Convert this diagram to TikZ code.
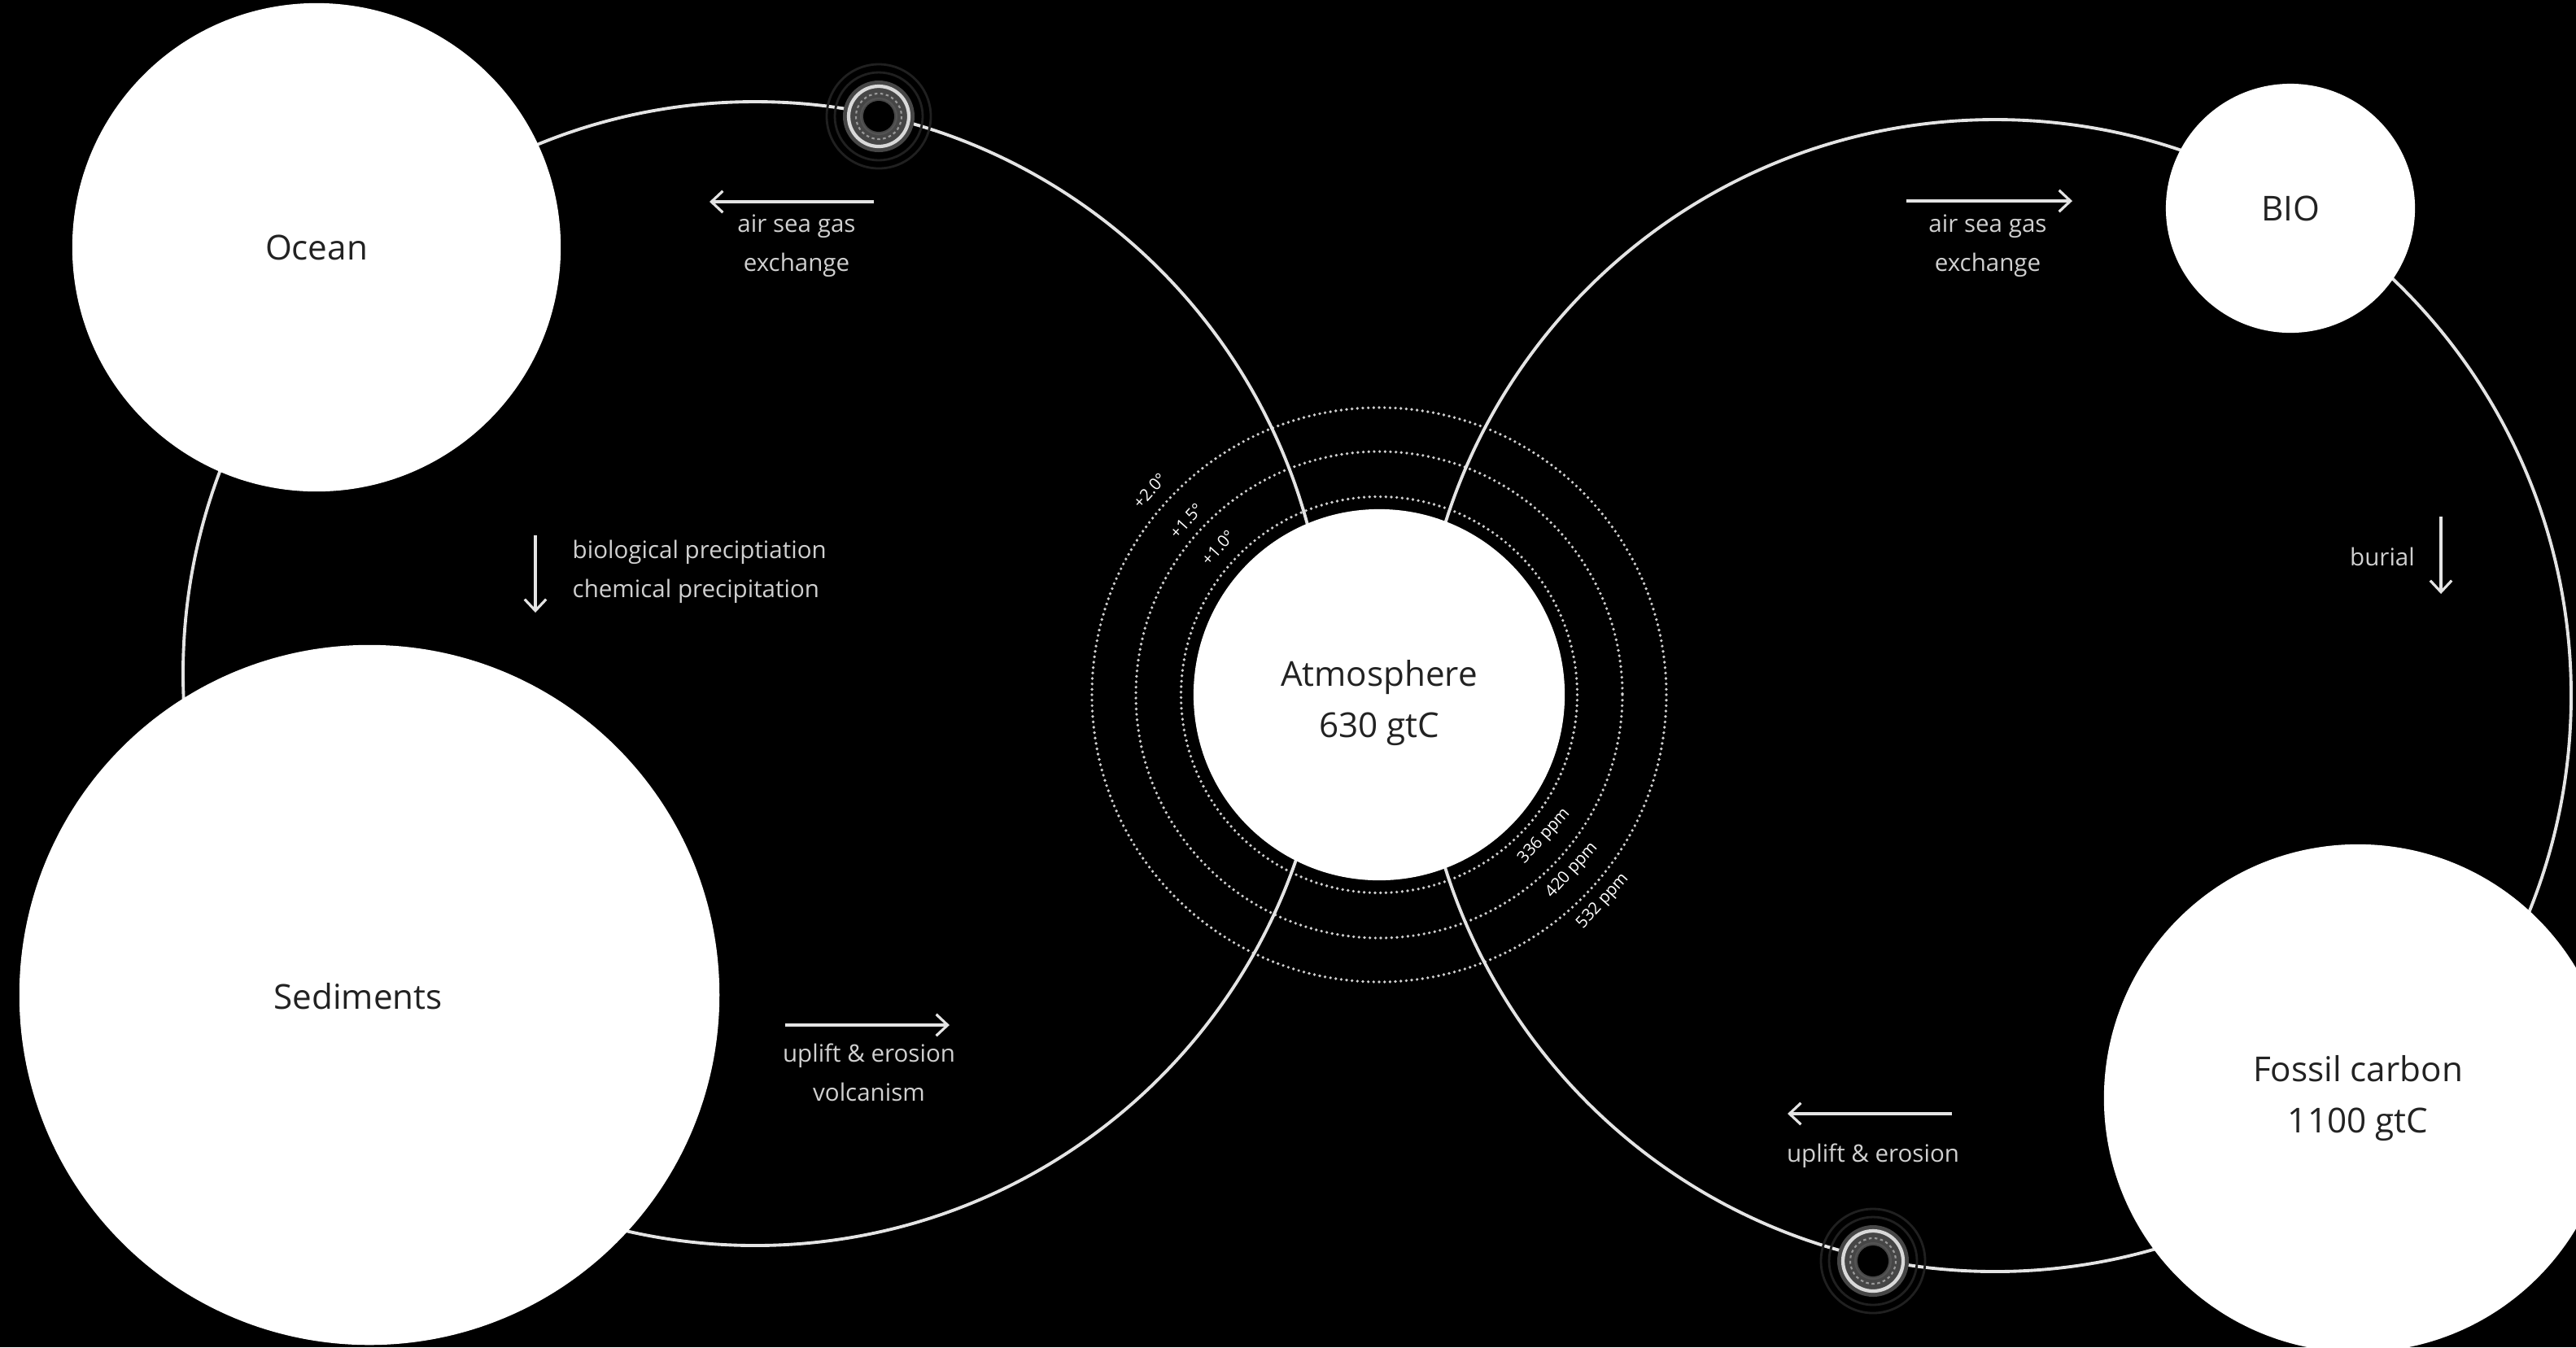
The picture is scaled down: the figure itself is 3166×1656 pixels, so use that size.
\documentclass[tikz,border=0pt]{standalone}
\usepackage{fontspec}
\setmainfont{Open Sans}
\usetikzlibrary{arrows.meta}
\definecolor{ink}{HTML}{222222}
\definecolor{wire}{HTML}{E4E4E4}
\definecolor{notegray}{HTML}{D0D0D0}
\begin{document}
\begin{tikzpicture}[x=0.01cm, y=-0.01cm,
  reservoir/.style={circle, fill=white, inner sep=0pt, text=ink, align=center,
    font=\fontsize{12}{18}\selectfont},
  restext/.style={text=ink, align=center, inner sep=0pt,
    font=\fontsize{12}{18}\selectfont},
  orbit/.style={draw=wire, line width=1.1pt},
  tempring/.style={draw=notegray, line width=1.05pt, line cap=round,
    dash pattern=on 0pt off 1.9pt},
  flow/.style={draw=wire, line width=0.9pt,
    -{Straight Barb[length=4pt,width=7.5pt]}},
  fluxnote/.style={text=notegray, align=center, inner sep=0pt,
    font=\fontsize{8.4}{13.7}\selectfont},
  ringlabel/.style={text=white, inner sep=0pt, rotate=48,
    font=\fontsize{5.8}{7}\selectfont},
  ringmark/.pic={
    \draw[gray!25!black, line width=0.8pt] (0,0) circle[radius=64] (0,0) circle[radius=54];
    \fill[gray!55!black] (0,0) circle[radius=44];
    \draw[white!85!black, line width=1.2pt] (0,0) circle[radius=37];
    \draw[gray!80, line width=0.6pt, dash pattern=on 1pt off 1pt] (0,0) circle[radius=28];
    \fill[black] (0,0) circle[radius=19];
    \draw[gray!65!black, line width=0.6pt] (0,0) circle[radius=22];
  }
]
% canvas
\fill[black] (0,0) rectangle (3166,1656);
\useasboundingbox (0,0) rectangle (3166,1656);

% centres of the two exchange loops and of the atmosphere
\coordinate (lo) at (928,828);
\coordinate (ro) at (2452,855);
\coordinate (ac) at (1695,854);

% warming rings around the atmosphere
\draw[tempring] (ac) circle[radius=243.5];
\draw[tempring] (ac) circle[radius=299];
\draw[tempring] (ac) circle[radius=353];

% the two exchange loops
\draw[orbit] (lo) circle[radius=703];
\draw[orbit] (ro) circle[radius=708];

% markers on the loops
\pic at (1080,143) {ringmark};
\pic at (2302,1550) {ringmark};

% carbon reservoirs
\node[reservoir, minimum size=6.0cm] (ocean) at (389,304) {Ocean};
\node[reservoir, minimum size=8.6cm] (sed) at (454,1223) {};
\node[restext] (sedtext) at (440,1225) {Sediments};
\node[reservoir, minimum size=4.56cm] (atm) at (ac) {};
\node[restext] (atmtext) at (1695,864) {Atmosphere\\630 gtC};
\node[reservoir, minimum size=3.06cm] (bio) at (2815,256) {BIO};
\node[reservoir, minimum size=6.24cm] (fossil) at (2898,1350) {Fossil carbon\\1100 gtC};

% ring labels
\node[ringlabel] (t20) at (1413,603) {+2.0°};
\node[ringlabel] (t15) at (1458,640) {+1.5°};
\node[ringlabel] (t10) at (1497,673) {+1.0°};
\node[ringlabel] (p336) at (1898,1028) {336 ppm};
\node[ringlabel] (p420) at (1932,1070) {420 ppm};
\node[ringlabel] (p532) at (1970,1108) {532 ppm};

% flux labels and their arrows
\coordinate (a1s) at (1074,248); \coordinate (a1e) at (872,248);
\draw[flow] (a1s) -- (a1e);
\node[fluxnote] (n1) at (979,302) {air sea gas\\exchange};

\coordinate (a2s) at (2343,247); \coordinate (a2e) at (2547,247);
\draw[flow] (a2s) -- (a2e);
\node[fluxnote] (n2) at (2443,302) {air sea gas\\exchange};

\coordinate (a3s) at (658,658); \coordinate (a3e) at (658,753);
\draw[flow] (a3s) -- (a3e);
\node[fluxnote, anchor=west, align=left] (n3) at (703,703)
  {biological preciptiation\\chemical precipitation};

\coordinate (a4s) at (3000,635); \coordinate (a4e) at (3000,730);
\draw[flow] (a4s) -- (a4e);
\node[fluxnote] (n4) at (2928,684) {burial};

\coordinate (a5s) at (965,1260); \coordinate (a5e) at (1167,1260);
\draw[flow] (a5s) -- (a5e);
\node[fluxnote] (n5) at (1068,1318) {uplift \& erosion\\volcanism};

\coordinate (a6s) at (2399,1369); \coordinate (a6e) at (2197,1369);
\draw[flow] (a6s) -- (a6e);
\node[fluxnote] (n6) at (2302,1421) {uplift \& erosion};
\end{tikzpicture}
\end{document}
